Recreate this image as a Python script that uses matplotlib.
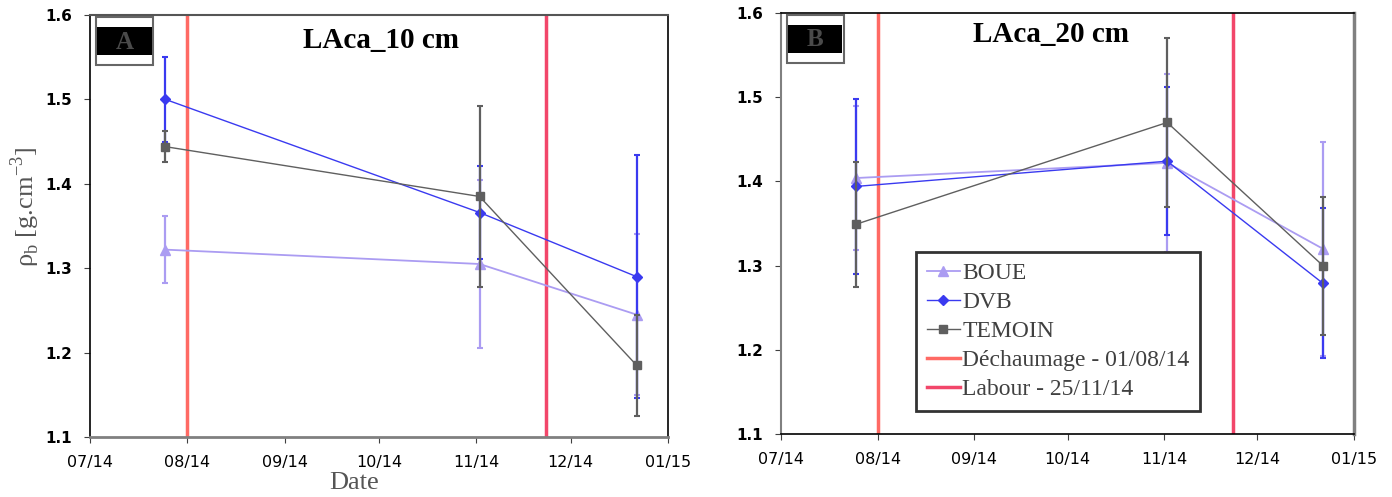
import matplotlib
matplotlib.use("Agg")
from matplotlib import pyplot as plt
import matplotlib.dates as mdates
import pandas as pd

# sampling dates
dates = pd.to_datetime(["2014-07-25", "2014-11-02", "2014-12-22"])
dechaumage = pd.Timestamp("2014-08-01")
labour = pd.Timestamp("2014-11-23")

# panel A - 10 cm
boue_10 = [1.322, 1.305, 1.245]
boue_10_err = [0.040, 0.100, 0.095]
dvb_10 = [1.500, 1.366, 1.290]
dvb_10_err = [0.050, 0.055, 0.144]
temoin_10 = [1.444, 1.385, 1.185]
temoin_10_err = [0.018, 0.107, 0.060]

# panel B - 20 cm
boue_20 = [1.404, 1.422, 1.320]
boue_20_err = [0.085, 0.106, 0.127]
dvb_20 = [1.394, 1.424, 1.279]
dvb_20_err = [0.104, 0.088, 0.089]
temoin_20 = [1.349, 1.470, 1.300]
temoin_20_err = [0.074, 0.100, 0.082]

col_boue = '#ab9cf2'
col_dvb = '#3a3af0'
col_tem = '#5f5f5f'
col_dech = '#ff6a64'
col_lab = '#f2466a'

serif = 'Liberation Serif'
sans = 'DejaVu Sans'

fig = plt.figure(figsize=(13.92, 4.97), dpi=100)
axA = fig.add_axes([0.0647, 0.1207, 0.4152, 0.8491])
axB = fig.add_axes([0.5611, 0.1268, 0.4116, 0.8470])


def draw(ax, boue, boue_err, dvb, dvb_err, tem, tem_err, title, title_x, title_y, letter):
    handles = []
    for vals, err, col, mk, ms, lw, z in [
            (boue, boue_err, col_boue, '^', 7, 1.3, 3),
            (dvb, dvb_err, col_dvb, 'D', 5, 1.0, 4),
            (tem, tem_err, col_tem, 's', 6, 1.0, 5)]:
        c = ax.errorbar(dates, vals, yerr=err, color=col, marker=mk, ms=ms, lw=lw,
                        elinewidth=1.6, capsize=2.5, capthick=1.5, zorder=z)
        handles.append(c.lines[0])
    handles.append(ax.axvline(dechaumage, color=col_dech, lw=2.5, zorder=2))
    handles.append(ax.axvline(labour, color=col_lab, lw=2.5, zorder=2))

    ax.set_xlim(pd.Timestamp("2014-07-01"), pd.Timestamp("2015-01-01"))
    ax.set_ylim(1.1, 1.6)
    ax.set_yticks([1.1, 1.2, 1.3, 1.4, 1.5, 1.6])
    ax.xaxis.set_major_locator(mdates.MonthLocator())
    ax.xaxis.set_major_formatter(mdates.DateFormatter('%m/%y'))

    for lab in ax.get_yticklabels():
        lab.set_fontfamily(sans)
        lab.set_fontweight('bold')
        lab.set_fontsize(11)
    for lab in ax.get_xticklabels():
        lab.set_fontfamily(sans)
        lab.set_fontsize(11.5)

    ax.tick_params(axis='both', direction='out', length=4, color='#404040')
    ax.tick_params(axis='x', pad=9)
    ax.tick_params(axis='y', pad=9)

    ax.text(title_x, title_y, title, transform=ax.transAxes, ha='center', va='center',
            fontsize=21, fontweight='bold', family=serif)

    # letter box
    ax.add_patch(plt.Rectangle((0.010, 0.882), 0.099, 0.113, transform=ax.transAxes,
                               facecolor='white', edgecolor='#666666', lw=1.5, zorder=6))
    ax.add_patch(plt.Rectangle((0.012, 0.905), 0.095, 0.067, transform=ax.transAxes,
                               facecolor='black', edgecolor='none', zorder=7))
    ax.text(0.06, 0.936, letter, transform=ax.transAxes, ha='center', va='center',
            fontsize=18, fontweight='bold', color='#4a4a4a', family=serif, zorder=8)
    return handles


draw(axA, boue_10, boue_10_err, dvb_10, dvb_10_err, temoin_10, temoin_10_err,
     'LAca_10 cm', 0.503, 0.94, 'A')
handles = draw(axB, boue_20, boue_20_err, dvb_20, dvb_20_err, temoin_20, temoin_20_err,
               'LAca_20 cm', 0.471, 0.948, 'B')
labels = ['BOUE', 'DVB', 'TEMOIN', 'Déchaumage - 01/08/14', 'Labour - 25/11/14']

# spines
axA.spines['left'].set(color='black', linewidth=1.2)
axA.spines['bottom'].set(color='#808080', linewidth=2)
axA.spines['top'].set(color='#555555', linewidth=1.5)
axA.spines['right'].set(color='black', linewidth=1.2)
axB.spines['left'].set(color='#808080', linewidth=1.5)
axB.spines['bottom'].set(color='black', linewidth=1.2)
axB.spines['top'].set(color='black', linewidth=1.2)
axB.spines['right'].set(color='#808080', linewidth=2.5)

axA.set_xlabel('Date', family=serif, fontsize=19, color='#555555')
axA.xaxis.set_label_coords(0.457, -0.083)
axA.set_ylabel(r'ρ$_\mathregular{b}$ [g.cm$^\mathregular{-3}$]', family=serif,
               fontsize=19, color='#555555')
axA.yaxis.set_label_coords(-0.083, 0.545)

leg = axB.legend(handles, labels, loc='lower left', bbox_to_anchor=(0.2356, 0.0548),
                 frameon=True, fancybox=False, prop={'family': serif, 'size': 17},
                 handlelength=1.4, handletextpad=0.1, labelspacing=0.32,
                 borderpad=0.45, borderaxespad=0)
leg.get_frame().set_edgecolor('#333333')
leg.get_frame().set_linewidth(2)
leg.get_frame().set_alpha(1)
for t in leg.get_texts():
    t.set_color('#404040')

fig.savefig('out.png', dpi=100)
